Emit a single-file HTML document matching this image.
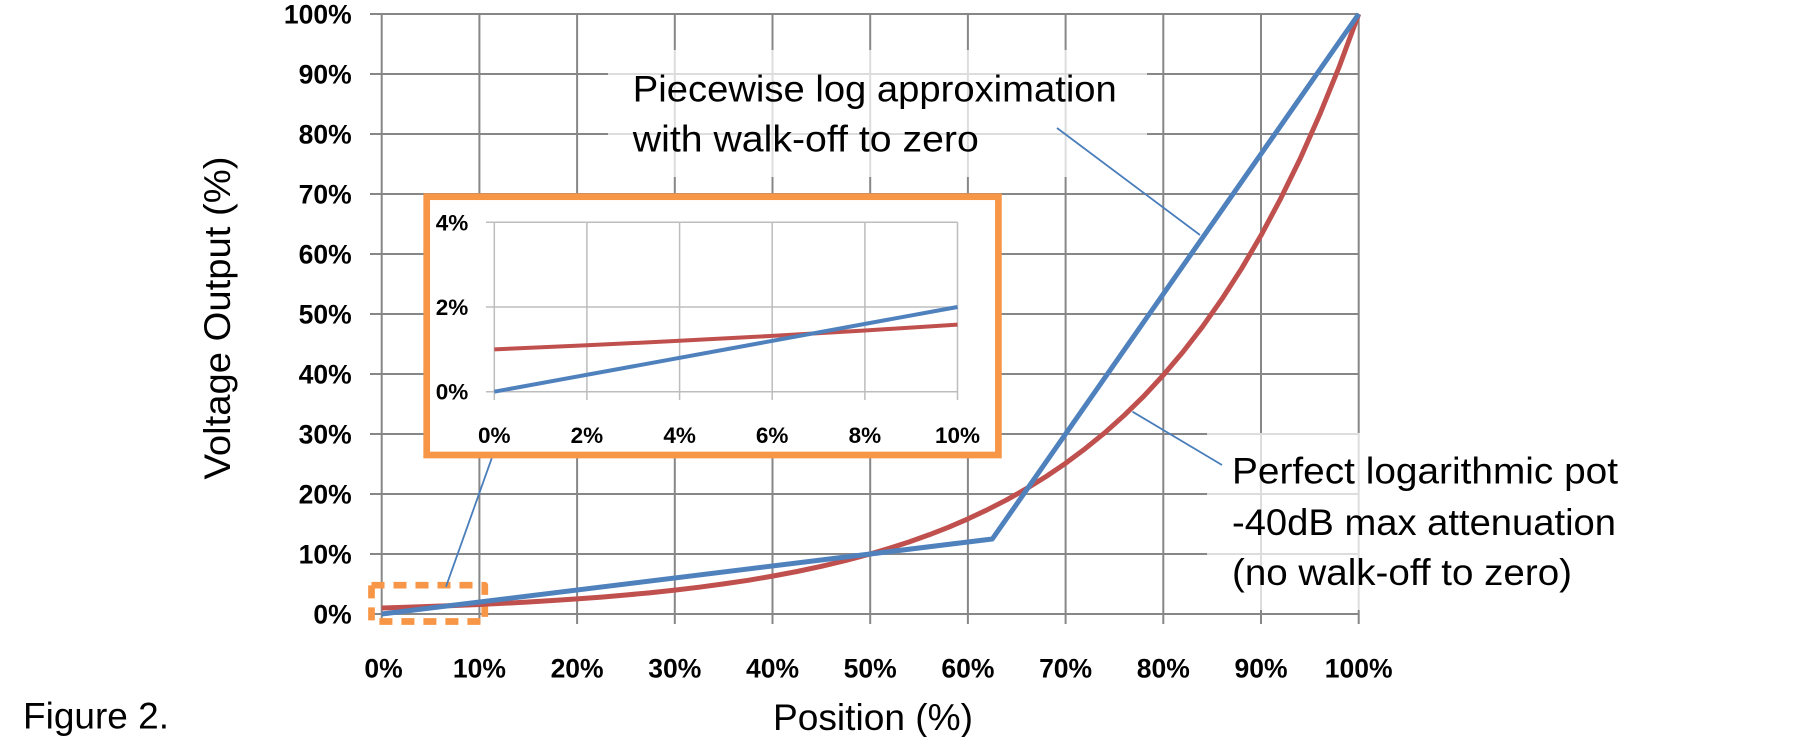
<!DOCTYPE html>
<html><head><meta charset="utf-8"><style>
html,body{margin:0;padding:0;background:#fff;}
svg{display:block;}
text{font-family:"Liberation Sans",Arial,sans-serif;fill:#000;}
.tb{font-weight:bold;font-size:26.5px;}
.ti{font-weight:bold;font-size:22.5px;}
.tn{font-size:37.5px;}
</style></head><body>
<svg width="1814" height="737" viewBox="0 0 1814 737" xmlns="http://www.w3.org/2000/svg">
<rect width="1814" height="737" fill="#fff"/>
<g stroke="#878787" stroke-width="2" fill="none">
<line x1="370" y1="14" x2="1358.7" y2="14"/>
<line x1="370" y1="74" x2="1358.7" y2="74"/>
<line x1="370" y1="134" x2="1358.7" y2="134"/>
<line x1="370" y1="194" x2="1358.7" y2="194"/>
<line x1="370" y1="254" x2="1358.7" y2="254"/>
<line x1="370" y1="314" x2="1358.7" y2="314"/>
<line x1="370" y1="374" x2="1358.7" y2="374"/>
<line x1="370" y1="434" x2="1358.7" y2="434"/>
<line x1="370" y1="494" x2="1358.7" y2="494"/>
<line x1="370" y1="554" x2="1358.7" y2="554"/>
<line x1="370" y1="614" x2="1358.7" y2="614"/>
<line x1="381.7" y1="14" x2="381.7" y2="624"/>
<line x1="479.4" y1="14" x2="479.4" y2="624"/>
<line x1="577.1" y1="14" x2="577.1" y2="624"/>
<line x1="674.8" y1="14" x2="674.8" y2="624"/>
<line x1="772.5" y1="14" x2="772.5" y2="624"/>
<line x1="870.2" y1="14" x2="870.2" y2="624"/>
<line x1="967.9" y1="14" x2="967.9" y2="624"/>
<line x1="1065.6" y1="14" x2="1065.6" y2="624"/>
<line x1="1163.3" y1="14" x2="1163.3" y2="624"/>
<line x1="1261" y1="14" x2="1261" y2="624"/>
<line x1="1358.7" y1="14" x2="1358.7" y2="624"/>
</g>
<rect x="608" y="50" width="539" height="127" fill="#fff" fill-opacity="0.72"/>
<rect x="1207" y="433" width="420" height="177" fill="#fff" fill-opacity="0.72"/>
<g class="tb" text-anchor="end">
<text x="351.7" y="23.5">100%</text>
<text x="351.7" y="83.5">90%</text>
<text x="351.7" y="143.5">80%</text>
<text x="351.7" y="203.5">70%</text>
<text x="351.7" y="263.5">60%</text>
<text x="351.7" y="323.5">50%</text>
<text x="351.7" y="383.5">40%</text>
<text x="351.7" y="443.5">30%</text>
<text x="351.7" y="503.5">20%</text>
<text x="351.7" y="563.5">10%</text>
<text x="351.7" y="623.5">0%</text>
</g>
<g class="tb" text-anchor="middle">
<text x="383.5" y="677.7">0%</text>
<text x="479.4" y="677.7">10%</text>
<text x="577.1" y="677.7">20%</text>
<text x="674.8" y="677.7">30%</text>
<text x="772.5" y="677.7">40%</text>
<text x="870.2" y="677.7">50%</text>
<text x="967.9" y="677.7">60%</text>
<text x="1065.6" y="677.7">70%</text>
<text x="1163.3" y="677.7">80%</text>
<text x="1261" y="677.7">90%</text>
<text x="1358.7" y="677.7">100%</text>
</g>
<rect x="371.5" y="585.2" width="113.3" height="36.3" fill="none" stroke="#F79646" stroke-width="6.7" stroke-dasharray="13 9" stroke-linejoin="round"/>
<polyline fill="none" stroke="#C0504D" stroke-width="5" stroke-linejoin="round" points="381.7,608 406.1,607.3 430.6,606.4 455.0,605.5 479.4,604.5 503.9,603.3 528.3,602.0 552.7,600.5 577.1,598.9 601.6,597.1 626.0,595.0 650.4,592.7 674.8,590.1 699.3,587.2 723.7,583.9 748.1,580.3 772.5,576.1 797.0,571.5 821.4,566.3 845.8,560.5 870.2,554 889.7,548.2 909.3,541.9 928.8,534.9 948.4,527.3 967.9,518.9 987.4,509.7 1007.0,499.7 1026.5,488.6 1046.1,476.5 1065.6,463.3 1085.1,448.7 1104.7,432.8 1124.2,415.3 1143.8,396.2 1163.3,375.1 1182.8,352.1 1202.4,326.8 1221.9,299.1 1241.5,268.7 1261.0,235.4 1280.5,198.9 1300.1,158.9 1319.6,114.9 1339.2,66.8 1358.7,14"/>
<polyline fill="none" stroke="#4F81BD" stroke-width="5" stroke-linejoin="round" points="381.7,614 992.3,539 1358.7,14"/>
<rect x="426.7" y="196.7" width="571.7" height="258.3" fill="#fff" stroke="#F79646" stroke-width="6.7"/>
<g stroke="#BDBDBD" stroke-width="1.5" fill="none">
<line x1="486" y1="222.3" x2="957.5" y2="222.3"/>
<line x1="486" y1="307" x2="957.5" y2="307"/>
<line x1="486" y1="391.7" x2="957.5" y2="391.7"/>
<line x1="494.3" y1="222.3" x2="494.3" y2="400"/>
<line x1="586.9" y1="222.3" x2="586.9" y2="400"/>
<line x1="679.6" y1="222.3" x2="679.6" y2="400"/>
<line x1="772.2" y1="222.3" x2="772.2" y2="400"/>
<line x1="864.9" y1="222.3" x2="864.9" y2="400"/>
<line x1="957.5" y1="222.3" x2="957.5" y2="400"/>
</g>
<g class="ti" text-anchor="end">
<text x="468.3" y="230.3">4%</text>
<text x="468.3" y="315">2%</text>
<text x="468.3" y="399.7">0%</text>
</g>
<g class="ti" text-anchor="middle">
<text x="494.3" y="443">0%</text>
<text x="586.9" y="443">2%</text>
<text x="679.6" y="443">4%</text>
<text x="772.2" y="443">6%</text>
<text x="864.9" y="443">8%</text>
<text x="957.5" y="443">10%</text>
</g>
<polyline fill="none" stroke="#C0504D" stroke-width="4" points="494.3,349.35 586.9,345.3 679.6,340.8 772.2,335.9 864.9,330.5 957.5,324.6"/>
<polyline fill="none" stroke="#4F81BD" stroke-width="4" points="494.3,391.7 957.5,307"/>
<g stroke="#4A7EBB" stroke-width="1.8" fill="none">
<line x1="1057" y1="128" x2="1200" y2="235"/>
<line x1="1132.5" y1="411.7" x2="1222" y2="465"/>
<line x1="491.7" y1="458.3" x2="446" y2="586.7"/>
</g>
<text class="tn" x="632.8" y="101.7" textLength="484" lengthAdjust="spacingAndGlyphs">Piecewise log approximation</text>
<text class="tn" x="632.8" y="151.7" textLength="346" lengthAdjust="spacingAndGlyphs">with walk-off to zero</text>
<text class="tn" x="1232" y="483.5" textLength="386" lengthAdjust="spacingAndGlyphs">Perfect logarithmic pot</text>
<text class="tn" x="1232" y="535" textLength="384" lengthAdjust="spacingAndGlyphs">-40dB max attenuation</text>
<text class="tn" x="1232" y="585" textLength="340" lengthAdjust="spacingAndGlyphs">(no walk-off to zero)</text>
<text class="tn" x="873" y="730" text-anchor="middle" textLength="200" lengthAdjust="spacingAndGlyphs">Position (%)</text>
<text class="tn" transform="translate(230,318) rotate(-90)" x="0" y="0" text-anchor="middle" textLength="323" lengthAdjust="spacingAndGlyphs">Voltage Output (%)</text>
<text class="tn" x="23" y="728.3" textLength="146" lengthAdjust="spacingAndGlyphs">Figure 2.</text>
</svg>
</body></html>
